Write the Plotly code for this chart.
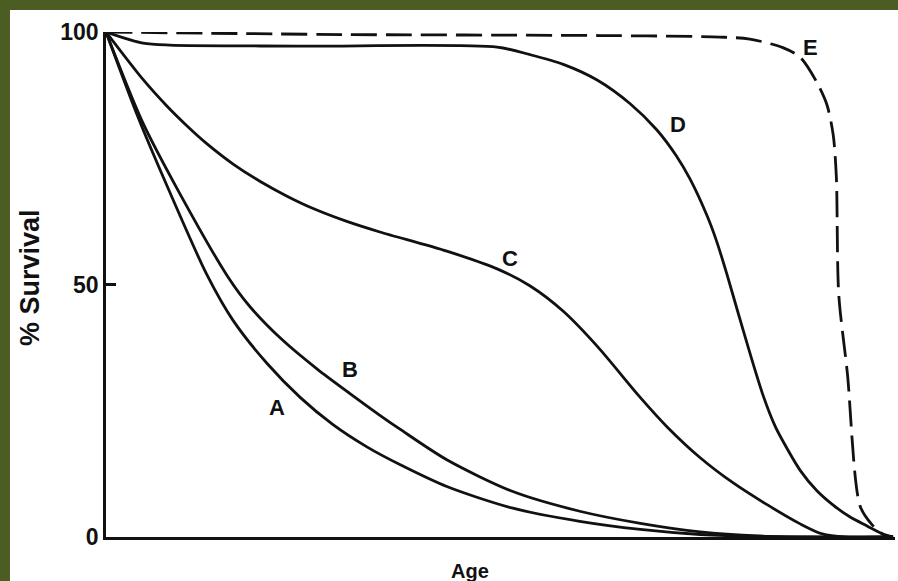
import plotly.graph_objects as go

# ---- data (Age in % of max lifespan, % survival) ----
age_A = [0, 4.1, 7.9, 12.8, 16.1, 20.5, 24.7, 28.8, 33.2, 37.4, 43.3, 51.7, 60.2, 67.9, 75.5, 85, 100]
surv_A = [100, 83.0, 69.0, 52.0, 43.0, 34.3, 27.6, 22.3, 17.8, 14.3, 10.0, 5.7, 3.1, 1.5, 0.5, 0.05, 0]

age_B = [0, 4.6, 9.1, 15.5, 18.3, 22.5, 26.8, 31.0, 34.8, 37.4, 43.3, 51.7, 60.2, 67.9, 75.5, 83, 90, 100]
surv_B = [100, 82.3, 68.8, 51.5, 45.6, 38.9, 33.3, 28.4, 24.1, 21.3, 15.3, 9.0, 5.1, 2.7, 1.0, 0.2, 0, 0]

age_C = [0, 4.7, 7.7, 10.3, 12.8, 16.2, 19.6, 23.0, 26.4, 30.6, 34.8, 43.3, 49.7, 53.9, 58.1,
         62.4, 67.9, 71.3, 75.5, 79.7, 84.0, 88.2, 91.0, 94.0, 100]
surv_C = [100, 90.6, 85.4, 81.4, 77.9, 73.8, 70.4, 67.5, 65.0, 62.5, 60.4, 56.6, 53.1, 49.7, 44.7,
          37.8, 27.6, 21.8, 15.7, 10.7, 6.4, 2.6, 0.6, 0, 0]

age_D = [0, 4.7, 8.1, 24.7, 49.7, 53.9, 58.1, 62.4, 66.6, 70.0, 72.5, 74.2, 76.4, 77.6, 78.9, 80.2,
         81.8, 83.5, 85.0, 86.0, 88.2, 90.3, 92.4, 94.5, 96.7, 98.7, 100]
surv_D = [100, 97.8, 97.4, 97.2, 97.0, 95.5, 93.6, 90.5, 85.8, 80.6, 75.4, 70.9, 63.5, 58.5, 52.0, 45.0,
          36.5, 28.0, 22.0, 19.0, 13.2, 9.2, 6.3, 4.0, 2.2, 0.6, 0]

age_E = [0, 30, 62.8, 78.0, 81.8, 86.0, 88.2, 90.3, 91.6, 92.4, 92.8, 93.1, 94.2, 95.8, 97.3, 99.0, 100]
surv_E = [100, 99.5, 99.3, 99.0, 98.6, 96.9, 95.0, 90.1, 85.6, 79.6, 71.2, 48.1, 32.4, 6.2, 2.5, 0.3, 0]

curve_names = ["A", "B", "C", "D", "E"]
label_age = [21.7, 31.0, 51.3, 72.7, 89.5]
label_surv = [25.7, 33.1, 55.2, 81.6, 97.0]

y_ticks = [0, 50, 100]
y_tick_text = ["0", "50", "100"]

INK = "#111111"
GREEN = "#4b5d23"
FONT = "Liberation Sans, Arial, sans-serif"

fig = go.Figure()
series = [(age_A, surv_A, "solid"), (age_B, surv_B, "solid"), (age_C, surv_C, "solid"),
          (age_D, surv_D, "solid"), (age_E, surv_E, "26px,9px")]
for name, (xs, ys, dash) in zip(curve_names, series):
    fig.add_trace(go.Scatter(
        x=xs, y=ys, mode="lines", name=name,
        line=dict(color=INK, width=2.8, dash=dash, shape="spline", smoothing=0.8),
        showlegend=False, hoverinfo="skip"))

for name, lx, ly in zip(curve_names, label_age, label_surv):
    fig.add_annotation(x=lx, y=ly, text=name, showarrow=False,
                       font=dict(family=FONT, size=22, color=INK, weight="bold"),
                       xanchor="center", yanchor="middle")

# axis titles as free text
fig.add_annotation(x=46.2, xref="x", y=-0.067, yref="paper", text="Age", showarrow=False,
                   font=dict(family=FONT, size=20, color=INK, weight="bold"),
                   xanchor="center", yanchor="middle")
fig.add_annotation(x=-0.0963, xref="paper", y=0.513, yref="paper", text="% Survival",
                   showarrow=False, textangle=-90,
                   font=dict(family=FONT, size=27, color=INK, weight="bold"),
                   xanchor="center", yanchor="middle")

# white page area inside the green frame (top and left edges)
fig.add_shape(type="rect", xref="paper", yref="paper", x0=-0.1217, x1=1.02, y0=-0.12, y1=1.0436,
              fillcolor="white", line=dict(width=0), layer="below")

fig.update_layout(
    width=898, height=581,
    margin=dict(l=106, r=3, t=32, b=44),
    paper_bgcolor=GREEN, plot_bgcolor="white",
    showlegend=False,
    xaxis=dict(range=[0, 100.25], showline=True, linecolor=INK, linewidth=2.8,
               showticklabels=False, ticks="", showgrid=False, zeroline=False, fixedrange=True),
    yaxis=dict(range=[0, 100], showline=True, linecolor=INK, linewidth=2.8,
               tickvals=y_ticks, ticktext=y_tick_text, ticks="inside", ticklen=10,
               tickwidth=2.5, tickcolor=INK, showgrid=False, zeroline=False,
               tickfont=dict(family=FONT, size=23, color=INK, weight="bold"), fixedrange=True),
)

fig.write_html(
    "out.html",
    config={"displayModeBar": False},
    post_script="document.body.style.margin='0';document.body.style.overflow='hidden';",
)
